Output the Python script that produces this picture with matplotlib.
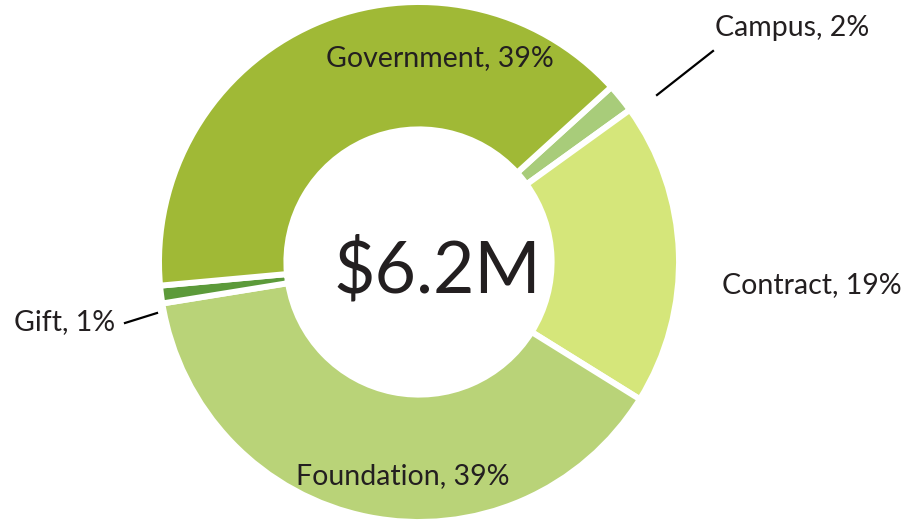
import matplotlib.pyplot as plt

# slice data, clockwise from the top right
labels = ['Campus', 'Contract', 'Foundation', 'Gift', 'Government']
shares = [1.8, 18.8, 38.6, 1.1, 39.7]
pct_text = ['2%', '19%', '39%', '1%', '39%']
colors = ['#A8CC7A', '#D5E67A', '#B9D378', '#5C9A3A', '#A0B936']
total_text = '$6.2M'

plt.rcParams['font.family'] = ['Lato', 'DejaVu Sans']
txt_color = '#231F20'

W, H = 922, 525
fig = plt.figure(figsize=(W / 100, H / 100), dpi=100)
ax = fig.add_axes([0, 0, 1, 1])

cx, cy, R = 419, H - 262, 260
ax.pie(shares, colors=colors, startangle=42.3, counterclock=False,
       center=(cx, cy), radius=R,
       wedgeprops=dict(width=R * 0.49, edgecolor='white', linewidth=4.3))

ax.set_xlim(0, W)
ax.set_ylim(0, H)
ax.set_aspect('equal')
ax.axis('off')

def lab(i):
    return f'{labels[i]}, {pct_text[i]}'

fs = 20.5
ax.text(437, H - 271, total_text, fontsize=51.5, color=txt_color, ha='center', va='center')
ax.text(440, H - 58, lab(4), fontsize=fs, color=txt_color, ha='center', va='center')
ax.text(403, H - 476, lab(2), fontsize=fs, color=txt_color, ha='center', va='center')
ax.text(722, H - 285, lab(1), fontsize=fs, color=txt_color, ha='left', va='center')
ax.text(715, H - 28, lab(0), fontsize=fs, color=txt_color, ha='left', va='center')
ax.text(115, H - 322, lab(3), fontsize=fs, color=txt_color, ha='right', va='center')

# leader lines for the thin slices
ax.plot([657, 713], [H - 95, H - 51], color='black', lw=1.6)
ax.plot([125, 157], [H - 323, H - 313], color='black', lw=1.6)

fig.savefig('out.png', dpi=100)
